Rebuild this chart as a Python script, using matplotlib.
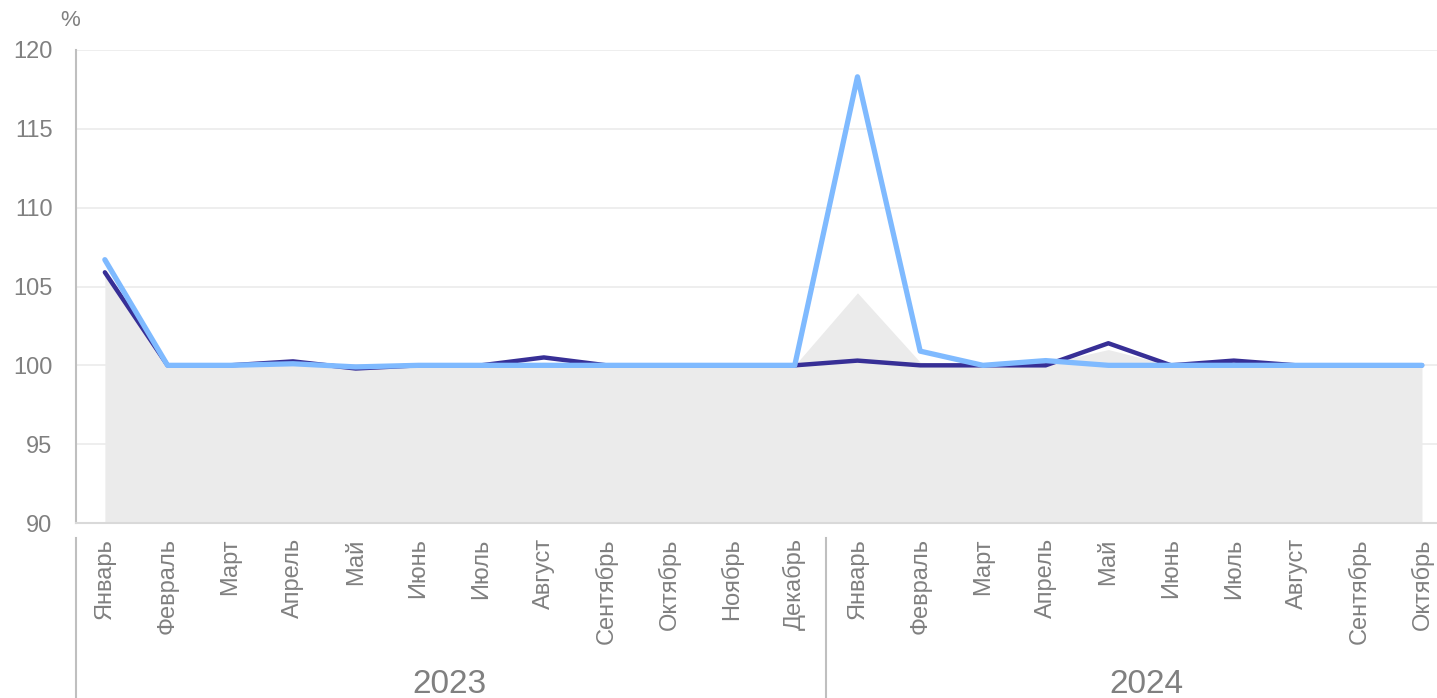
import numpy as np
import matplotlib.pyplot as plt
import matplotlib

plt.rcParams["font.family"] = ["Liberation Sans", "DejaVu Sans"]

months = ["Январь", "Февраль", "Март", "Апрель", "Май", "Июнь", "Июль",
          "Август", "Сентябрь", "Октябрь", "Ноябрь", "Декабрь",
          "Январь", "Февраль", "Март", "Апрель", "Май", "Июнь", "Июль",
          "Август", "Сентябрь", "Октябрь"]
years = ["2023", "2024"]
year_sizes = [12, 10]

# dark line
series_dark = [105.9, 100.0, 100.0, 100.25, 99.8, 100.0, 100.0, 100.5, 100.0, 100.0, 100.0, 100.0,
               100.3, 100.0, 100.0, 100.0, 101.4, 100.0, 100.3, 100.0, 100.0, 100.0]
# light line
series_light = [106.7, 100.0, 100.0, 100.1, 99.9, 100.0, 100.0, 100.0, 100.0, 100.0, 100.0, 100.0,
                118.3, 100.9, 100.0, 100.3, 100.0, 100.0, 100.0, 100.0, 100.0, 100.0]
# grey area
series_area = [105.9, 100.0, 100.0, 100.1, 99.9, 100.0, 100.0, 100.2, 100.0, 100.0, 100.0, 100.0,
               104.6, 100.2, 100.0, 100.1, 101.0, 100.0, 100.1, 100.0, 100.0, 100.0]

grey_txt = "#808080"
x = np.arange(len(months))

fig = plt.figure(figsize=(14.37, 6.98), dpi=100)
ax = fig.add_axes([76 / 1437, 1 - 523 / 698, 1 - 76 / 1437, (523 - 50) / 698])

ax.fill_between(x, 90, series_area, color="#ebebeb", lw=0, zorder=1)
ax.plot(x, series_dark, color="#372f96", lw=3.2, solid_capstyle="round", zorder=3)
ax.plot(x, series_light, color="#7fbaff", lw=3.8, solid_capstyle="round", zorder=4)

ax.set_ylim(90, 120)
ax.set_yticks(np.arange(90, 121, 5))
ax.set_xlim(-0.46, 21.24)
ax.grid(axis="y", color="#ebebeb", lw=1.2, zorder=0)
ax.set_axisbelow(True)

ax.set_xticks(x)
ax.set_xticklabels(months, rotation=90, va="top", ha="center")
ax.tick_params(axis="x", length=0, pad=11, labelsize=17, labelcolor=grey_txt)
ax.tick_params(axis="y", length=0, pad=17, labelsize=17, labelcolor=grey_txt)

for s in ["top", "right"]:
    ax.spines[s].set_visible(False)
ax.spines["left"].set_color("#bfbfbf")
ax.spines["left"].set_linewidth(1.5)
ax.spines["bottom"].set_color("#d9d9d9")
ax.spines["bottom"].set_linewidth(1.5)

# year groups under month labels
trans = ax.get_xaxis_transform()
start = -0.5
for yr, n in zip(years, year_sizes):
    sep = max(start, -0.455)
    ax.plot([sep, sep], [-0.032, -0.38], transform=trans, color="#bfbfbf",
            lw=1.5, clip_on=False)
    ax.text(start + n / 2 + 0.1 * (start > 0), -0.342, yr, transform=trans,
            ha="center", va="center", fontsize=24, color=grey_txt)
    start += n

fig.text(70 / 1437, 1 - 20 / 698, "%", ha="center", va="center", fontsize=16, color=grey_txt)

fig.savefig("out.png", dpi=100)
